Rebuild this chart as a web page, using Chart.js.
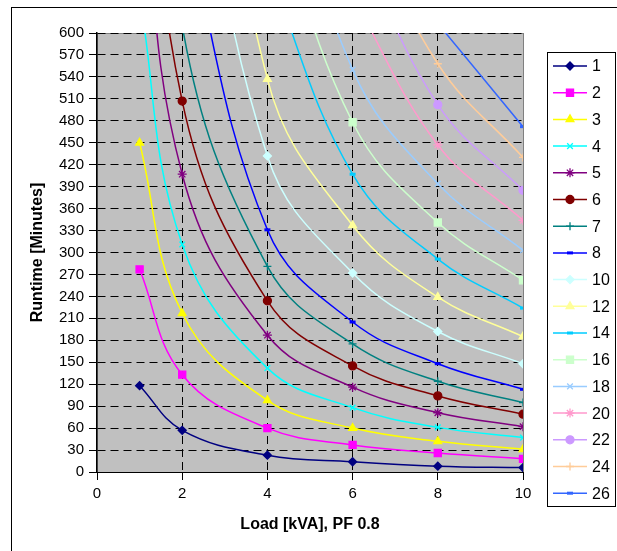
<!DOCTYPE html>
<html>
<head>
<meta charset="utf-8">
<script src="https://cdn.jsdelivr.net/npm/chart.js@4"></script>
<style>
  html, body { margin: 0; padding: 0; background: #fff; }
  #wrap { width: 617px; height: 551px; position: relative; }
</style>
</head>
<body>
<div id="wrap"><canvas id="runtimeChart"></canvas></div>
<script>
// Load points (kVA) where the runtime was read
const loadKva = [1, 2, 4, 6, 8, 10];

// Runtime in minutes per battery configuration (values above 600 are off the chart)
const run1  = [118, 57, 23, 14, 8, 6];
const run2  = [277, 133, 60, 37, 26, 18];
const run3  = [450, 217, 98, 60, 42, 31];
const run4  = [650, 311, 142, 88, 61, 47];
const run5  = [850, 407, 187, 116, 81, 62];
const run6  = [1055, 507, 234, 145, 104, 79];
const run7  = [1270, 610, 281, 175, 124, 95];
const run8  = [null, 770, 331, 205, 148, 113];
const run10 = [null, 1000, 432, 272, 192, 148];
const run12 = [null, 1250, 537, 337, 239, 185];
const run14 = [null, null, 690, 407, 291, 224];
const run16 = [null, null, 810, 478, 341, 262];
const run18 = [null, null, 930, 550, 394, 303];
const run20 = [null, null, null, 650, 447, 344];
const run22 = [null, null, null, 740, 502, 385];
const run24 = [null, null, null, 790, 558, 430];
const run26 = [null, null, null, null, 613, 472];

const seriesNames = ['1', '2', '3', '4', '5', '6', '7', '8', '10', '12', '14', '16', '18', '20', '22', '24', '26'];
const seriesValues = [run1, run2, run3, run4, run5, run6, run7, run8, run10, run12, run14, run16, run18, run20, run22, run24, run26];

const yTicks = { min: 0, max: 600, step: 30 };
const xTicks = { min: 0, max: 10, step: 2 };

// Excel style colours and markers
const colors = ['#000080', '#FF00FF', '#FFFF00', '#00FFFF', '#800080', '#800000', '#008080', '#0000FF',
  '#CCFFFF', '#FFFF99', '#00CCFF', '#CCFFCC', '#99CCFF', '#FF99CC', '#CC99FF', '#FFCC99', '#3366FF'];
const markers = ['rectRot', 'rect', 'triangle', 'crossRot', 'star', 'circle', 'cross', 'line',
  'rectRot', 'triangle', 'line', 'rect', 'crossRot', 'star', 'circle', 'cross', 'line'];
const markerSize = { rectRot: 4, rect: 5, triangle: 4.5, crossRot: 4, star: 4.5, circle: 4, cross: 4, line: 3 };

const datasets = seriesNames.map((name, i) => {
  const pts = [];
  loadKva.forEach((x, j) => {
    if (seriesValues[i][j] !== null) pts.push({ x: x, y: seriesValues[i][j] });
  });
  const style = markers[i];
  return {
    label: name,
    data: pts,
    borderColor: colors[i],
    backgroundColor: colors[i],
    pointBorderColor: colors[i],
    pointBackgroundColor: colors[i],
    borderWidth: 1.5,
    pointStyle: style,
    pointRadius: markerSize[style],
    pointHoverRadius: markerSize[style],
    pointBorderWidth: style === 'line' ? 3 : 1.3,
    tension: 0.4,
    fill: false
  };
});

// plot area background, borders and the outer frame
const frame = {
  id: 'frame',
  beforeDraw(chart) {
    const { ctx, chartArea: a } = chart;
    ctx.save();
    ctx.fillStyle = '#fff';
    ctx.fillRect(0, 0, chart.width, chart.height);
    ctx.strokeStyle = '#000';
    ctx.lineWidth = 1;
    ctx.strokeRect(11.5, 7.5, 700, 600);
    ctx.fillStyle = '#C0C0C0';
    ctx.fillRect(a.left, a.top, a.right - a.left, a.bottom - a.top);
    ctx.strokeStyle = '#808080';
    ctx.strokeRect(a.left + 0.5, a.top + 0.5, a.right - a.left, a.bottom - a.top);
    ctx.restore();
  }
};

// Excel style legend: line sample with marker, then label
const sideLegend = {
  id: 'sideLegend',
  afterDraw(chart) {
    const ctx = chart.ctx;
    ctx.save();
    ctx.fillStyle = '#fff';
    ctx.fillRect(547, 52, 68, 454);
    ctx.strokeStyle = '#000';
    ctx.lineWidth = 1;
    ctx.strokeRect(547.5, 52.5, 68, 454);
    chart.data.datasets.forEach((ds, i) => {
      const y = 66 + i * 26.7;
      ctx.strokeStyle = ds.borderColor;
      ctx.lineWidth = 1.5;
      ctx.beginPath();
      ctx.moveTo(553, y);
      ctx.lineTo(587, y);
      ctx.stroke();
      ctx.fillStyle = ds.pointBackgroundColor;
      ctx.strokeStyle = ds.pointBorderColor;
      ctx.lineWidth = ds.pointBorderWidth;
      Chart.helpers.drawPoint(ctx, { pointStyle: ds.pointStyle, radius: ds.pointRadius, rotation: 0, borderWidth: ds.pointBorderWidth }, 570, y);
      ctx.fillStyle = '#000';
      ctx.font = '16px "Liberation Sans", Arial, sans-serif';
      ctx.textAlign = 'left';
      ctx.textBaseline = 'middle';
      ctx.fillText(ds.label, 592, y + 1);
    });
    ctx.restore();
  }
};

const tickFont = { family: '"Liberation Sans", Arial, sans-serif', size: 15 };
const titleFont = { family: '"Liberation Sans", Arial, sans-serif', size: 16, weight: 'bold' };

new Chart(document.getElementById('runtimeChart'), {
  type: 'line',
  data: { datasets: datasets },
  plugins: [frame, sideLegend],
  options: {
    responsive: true,
    maintainAspectRatio: false,
    animation: false,
    layout: { padding: { left: 0, top: 33, right: 94, bottom: 0 } },
    plugins: { legend: { display: false }, tooltip: { enabled: false } },
    scales: {
      x: {
        type: 'linear',
        min: xTicks.min,
        max: xTicks.max,
        afterFit(scale) { scale.height = 79; },
        ticks: { stepSize: xTicks.step, color: '#000', font: tickFont, padding: 5, maxRotation: 0 },
        grid: {
          color: (c) => (c.tick && (c.tick.value === 0 || c.tick.value === 10)) ? 'rgba(0,0,0,0)' : '#000',
          tickColor: '#000',
          tickLength: 8,
          tickBorderDash: [],
          lineWidth: 1
        },
        border: { display: true, color: '#000', width: 1, dash: [8, 5] },
        title: { display: true, text: 'Load [kVA], PF 0.8', color: '#000', font: titleFont, padding: { top: 0, bottom: 17 } }
      },
      y: {
        min: yTicks.min,
        max: yTicks.max,
        afterFit(scale) { scale.width = 97; },
        ticks: { stepSize: yTicks.step, color: '#000', font: tickFont, padding: 5 },
        grid: {
          color: (c) => (c.tick && c.tick.value === 0) ? 'rgba(0,0,0,0)' : '#000',
          tickColor: '#000',
          tickLength: 8,
          tickBorderDash: [],
          lineWidth: 1
        },
        border: { display: true, color: '#000', width: 1.5, dash: [8, 5] },
        title: { display: true, text: 'Runtime [Minutes]', color: '#000', font: titleFont, padding: { top: 28, bottom: 0 } }
      }
    }
  }
});
</script>
</body>
</html>
